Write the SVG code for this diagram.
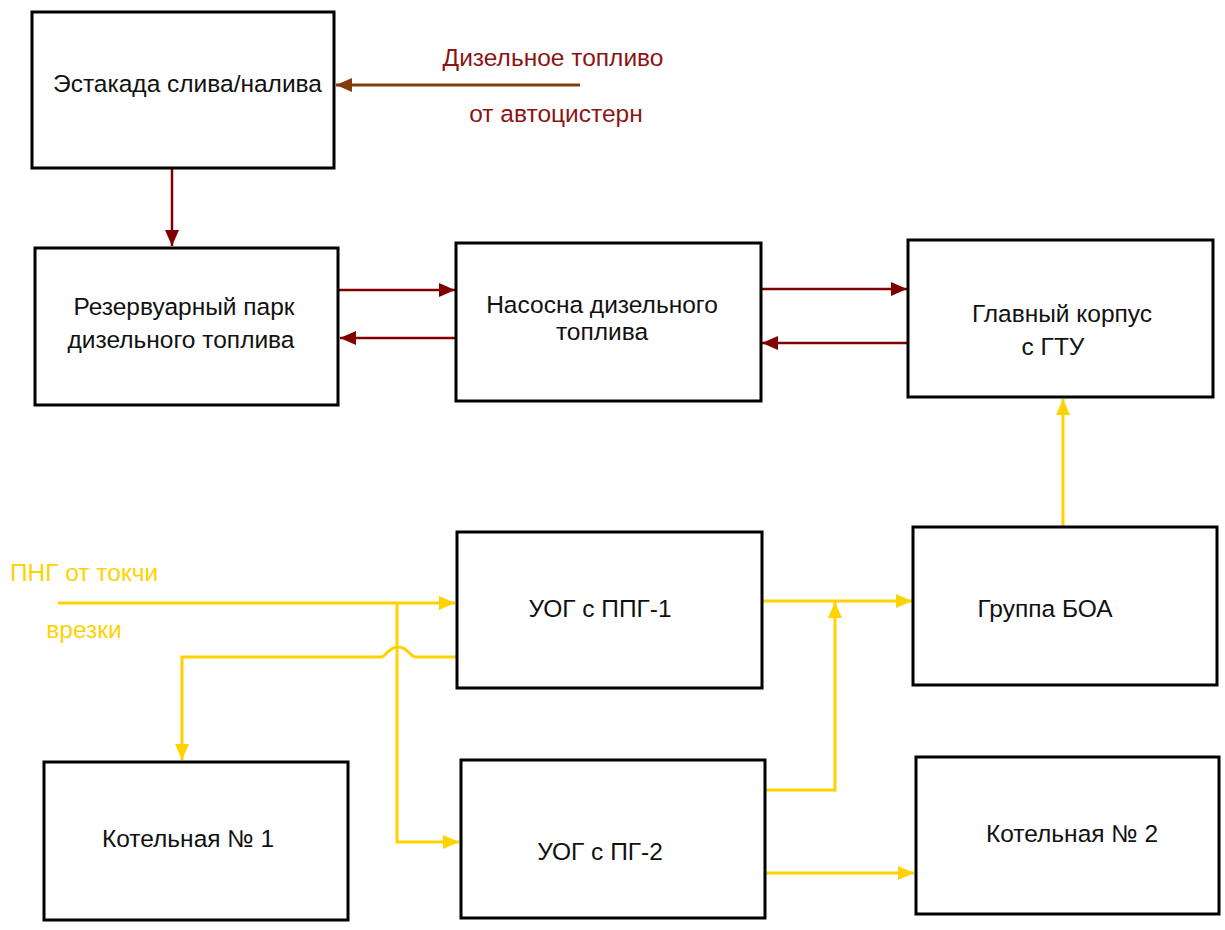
<svg xmlns="http://www.w3.org/2000/svg" width="1225" height="930" viewBox="0 0 1225 930">
<style>
.box{fill:#fff;stroke:#000;stroke-width:3}
.t{font-family:"Liberation Sans",Arial,sans-serif;font-size:24.5px;fill:#111;text-anchor:middle}
.lbr{font-family:"Liberation Sans",Arial,sans-serif;font-size:24.5px;fill:#8B1515;text-anchor:middle}
.lby{font-family:"Liberation Sans",Arial,sans-serif;font-size:24.5px;fill:#FFD200;text-anchor:middle}
.red{fill:none;stroke:#800000;stroke-width:2.5}
.brn{fill:none;stroke:#843C0C;stroke-width:3}
.yel{fill:none;stroke:#FFD200;stroke-width:3}
</style>
<defs>
<marker id="ar" markerUnits="userSpaceOnUse" markerWidth="17" markerHeight="15" refX="16" refY="7" orient="auto"><path d="M0,0 L16,7 L0,14 z" fill="#800000"/></marker>
<marker id="ab" markerUnits="userSpaceOnUse" markerWidth="17" markerHeight="15" refX="16" refY="7" orient="auto"><path d="M0,0 L16,7 L0,14 z" fill="#843C0C"/></marker>
<marker id="ay" markerUnits="userSpaceOnUse" markerWidth="17" markerHeight="15" refX="16" refY="7" orient="auto"><path d="M0,0 L16,7 L0,14 z" fill="#FFD200"/></marker>
</defs>
<g id="connectors">
<path class="brn" d="M580,85 L336,85" marker-end="url(#ab)"/>
<path class="red" d="M172,169 L172,246" marker-end="url(#ar)"/>
<path class="red" d="M339,290 L455,290" marker-end="url(#ar)"/>
<path class="red" d="M455,338 L340,338" marker-end="url(#ar)"/>
<path class="red" d="M761,289 L907,289" marker-end="url(#ar)"/>
<path class="red" d="M908,343 L762,343" marker-end="url(#ar)"/>
<path class="yel" d="M58,603 L455,603" marker-end="url(#ay)"/>
<path class="yel" d="M397,603 L397,842 L459,842" marker-end="url(#ay)"/>
<path class="yel" d="M456,657 L416,657 C410,657 408,647 398,647 C388,647 386,657 381,657 L182,657 L182,760" marker-end="url(#ay)"/>
<path class="yel" d="M762,601 L912,601" marker-end="url(#ay)"/>
<path class="yel" d="M765,790 L835,790 L835,602" marker-end="url(#ay)"/>
<path class="yel" d="M765,873 L914,873" marker-end="url(#ay)"/>
<path class="yel" d="M1063,527 L1063,399" marker-end="url(#ay)"/>
</g>
<g id="label-diesel">
<text class="lbr" x="553" y="66">Дизельное топливо</text>
<text class="lbr" x="556" y="122">от автоцистерн</text>
</g>
<g id="label-png">
<text class="lby" x="84" y="581">ПНГ от токчи</text>
<text class="lby" x="84" y="638">врезки</text>
</g>
<g id="estakada"><rect class="box" x="32" y="12" width="302" height="156"/><text class="t" x="187.5" y="92">Эстакада слива/налива</text></g>
<g id="rezervuar"><rect class="box" x="35" y="248" width="303" height="157"/><text class="t" x="184" y="315">Резервуарный парк</text><text class="t" x="181" y="348">дизельного топлива</text></g>
<g id="nasosna"><rect class="box" x="456" y="243" width="305" height="158"/><text class="t" x="602" y="313">Насосна дизельного</text><text class="t" x="602" y="340">топлива</text></g>
<g id="glavny"><rect class="box" x="908" y="240" width="305" height="157"/><text class="t" x="1062" y="322">Главный корпус</text><text class="t" x="1053" y="355">с ГТУ</text></g>
<g id="uog1"><rect class="box" x="457" y="532" width="305" height="156"/><text class="t" x="600" y="617">УОГ с ППГ-1</text></g>
<g id="boa"><rect class="box" x="913" y="527" width="304" height="158"/><text class="t" x="1045" y="617">Группа БОА</text></g>
<g id="kotel1"><rect class="box" x="44" y="762" width="304" height="158"/><text class="t" x="188" y="847">Котельная № 1</text></g>
<g id="uog2"><rect class="box" x="461" y="760" width="304" height="158"/><text class="t" x="600" y="860">УОГ с ПГ-2</text></g>
<g id="kotel2"><rect class="box" x="916" y="757" width="303" height="157"/><text class="t" x="1072" y="842">Котельная № 2</text></g>
</svg>
